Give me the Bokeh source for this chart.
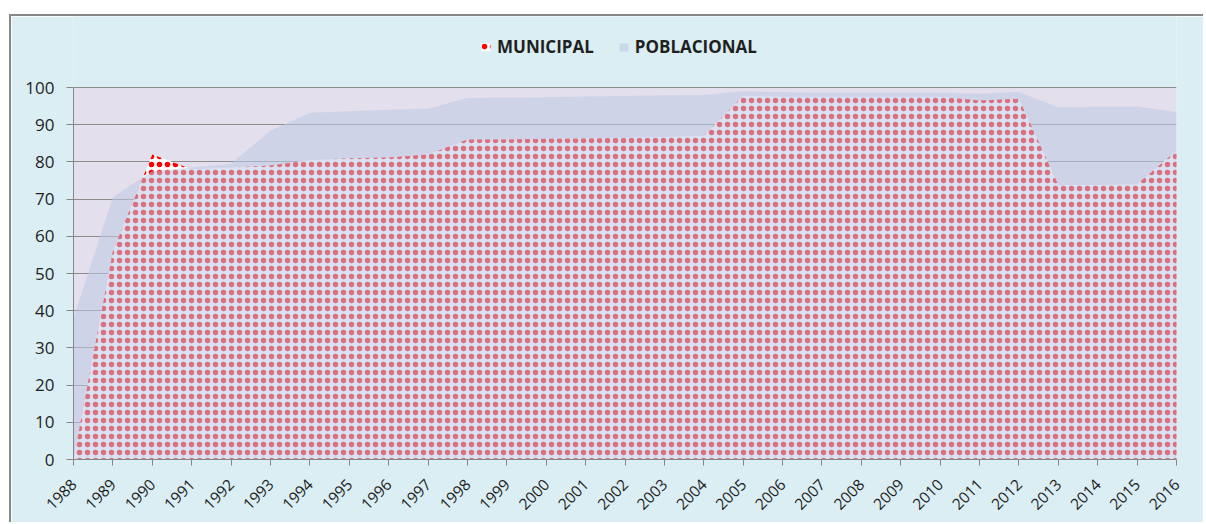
from bokeh.plotting import figure
from bokeh.models import Legend, LegendItem, FixedTicker, BoxAnnotation
from bokeh.embed import file_html
from bokeh.resources import INLINE
import math

years = list(range(1988, 2017))
municipal = [0, 56, 82, 78, 78.5, 79, 80.5, 81, 81.2, 82, 86, 86, 86.2, 86.3, 86.5,
             86.7, 87, 97.8, 97.5, 97.5, 97.5, 97.5, 97.5, 96.5, 97, 73.8, 73.8, 74, 83]
poblacional = [38, 70.5, 77.5, 78.5, 79.5, 88.4, 93.2, 93.6, 94, 94.3, 97.2, 97.3, 97.4,
               97.6, 97.7, 97.9, 98, 99, 98.7, 98.6, 98.6, 98.6, 98.6, 98.3, 98.8, 94.7,
               94.8, 94.9, 93.4]
y_ticks = [0, 10, 20, 30, 40, 50, 60, 70, 80, 90, 100]
series_names = ["MUNICIPAL", "POBLACIONAL"]

FONT = "Open Sans"
Y_MAX = 100
# frame extended above 100 so the legend sits inside it (100 -> 372 px, frame 443 px)
Y_TOP = Y_MAX * 443 / 372

p = figure(width=1194, height=508, output_backend="svg", toolbar_location=None,
           x_range=(years[0], years[-1]), y_range=(0, Y_TOP),
           min_border_left=62, min_border_right=29, min_border_top=0, min_border_bottom=65,
           background_fill_color="#DAEEF3", border_fill_color="#DAEEF3",
           outline_line_color=None)
p.margin = (14, 0, 0, 9)
p.styles = {"border-top": "2px solid #878787", "border-left": "2px solid #878787"}

plot_bg = BoxAnnotation(bottom=0, top=Y_MAX, fill_color="#E4DFEC", fill_alpha=1,
                        line_color=None, level="image")
p.add_layout(plot_bg)

zeros = [0] * len(years)
# red dotted pattern on white (dot + ring hatches give ~5px red dots every 8px)
r_mun = p.varea(x=years, y1=zeros, y2=municipal, fill_color="white",
                hatch_pattern="dot", hatch_color="#FF0000", hatch_scale=8)
r_mun2 = p.varea(x=years, y1=zeros, y2=municipal, fill_alpha=0,
                 hatch_pattern="ring", hatch_color="#FF0000", hatch_scale=8, hatch_weight=1.5)
r_pob = p.varea(x=years, y1=zeros, y2=poblacional, fill_color="#BDCAE5", fill_alpha=0.56)

p.xgrid.visible = False
p.ygrid.grid_line_color = "#8C8C8C"
p.ygrid.grid_line_width = 1
p.yaxis.ticker = FixedTicker(ticks=y_ticks)
p.xaxis.ticker = FixedTicker(ticks=years)
p.yaxis.bounds = (0, Y_MAX)

for ax in (p.xaxis[0], p.yaxis[0]):
    ax.axis_line_color = "#868686"
    ax.major_tick_line_color = "#868686"
    ax.minor_tick_line_color = None
    ax.major_tick_in = 0
    ax.major_label_text_font = FONT
    ax.major_label_text_color = "#1F1F1F"

p.yaxis.major_tick_out = 7
p.yaxis.major_label_standoff = 12
p.yaxis.major_label_text_font_size = "17px"
p.xaxis.major_tick_out = 6
p.xaxis.major_label_standoff = 16
p.xaxis.major_label_text_font_size = "15.5px"
p.xaxis.major_label_orientation = math.pi / 4

legend = Legend(items=[LegendItem(label=series_names[0], renderers=[r_mun, r_mun2]),
                       LegendItem(label=series_names[1], renderers=[r_pob])],
                orientation="horizontal", location=(407, 401),
                background_fill_alpha=0, border_line_color=None,
                glyph_width=11, glyph_height=10, label_standoff=6, spacing=24,
                padding=0, margin=0,
                label_text_font=FONT, label_text_font_style="bold",
                label_text_font_size="17px", label_text_color="#1F1F1F")
p.add_layout(legend, "center")

open("out.html", "w").write(file_html(p, INLINE))
